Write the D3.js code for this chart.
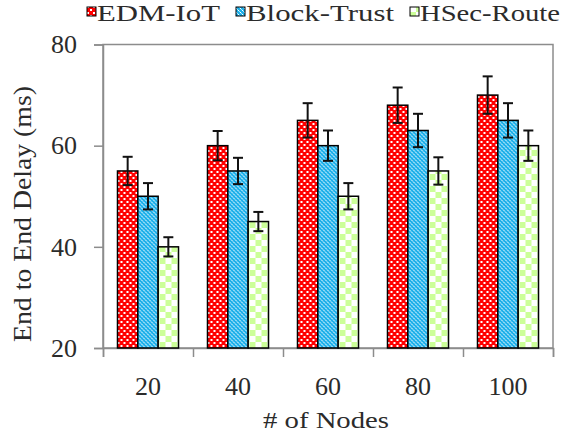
<!DOCTYPE html>
<html>
<head>
<meta charset="utf-8">
<script src="https://cdn.jsdelivr.net/npm/d3@7"></script>
<style>
  body { margin: 0; background: #fff; }
  svg { display: block; }
  svg text { font-family: "Liberation Serif", "Times New Roman", "DejaVu Serif", serif; }
</style>
</head>
<body>
<svg id="chart" width="572" height="435"></svg>
<script>
// values
const nodeCounts = ["20", "40", "60", "80", "100"];
const seriesNames = ["EDM-IoT", "Block-Trust", "HSec-Route"];
const edmIoT = [55, 60, 65, 68, 70];
const blockTrust = [50, 55, 60, 63, 65];
const hsecRoute = [40, 45, 50, 55, 60];
const edmErr = [2.8, 2.9, 3.4, 3.5, 3.7];
const blockErr = [2.6, 2.6, 3.0, 3.3, 3.4];
const hsecErr = [1.9, 1.9, 2.6, 2.7, 3.0];
const yTicks = [20, 40, 60, 80];

let values = [edmIoT, blockTrust, hsecRoute];
let errors = [edmErr, blockErr, hsecErr];

let svg = d3.select("#chart");

let plotLeft = 103, plotRight = 553, plotTop = 44.5, plotBottom = 348;
let serif = "'Liberation Serif', 'Times New Roman', 'DejaVu Serif', serif";
let textColor = "#2b2b2b";

// fill patterns
let defs = svg.append("defs");

let pRed = defs.append("pattern").attr("id", "pat0")
    .attr("patternUnits", "userSpaceOnUse").attr("width", 6).attr("height", 6);
pRed.append("rect").attr("width", 6).attr("height", 6).attr("fill", "#ff0000");
pRed.append("rect").attr("x", 0).attr("y", 0).attr("width", 2).attr("height", 2).attr("fill", "#fff");
pRed.append("rect").attr("x", 3).attr("y", 3).attr("width", 2).attr("height", 2).attr("fill", "#fff");

let pBlue = defs.append("pattern").attr("id", "pat1")
    .attr("patternUnits", "userSpaceOnUse").attr("width", 4).attr("height", 4);
pBlue.append("rect").attr("width", 4).attr("height", 4).attr("fill", "#1cb0ea");
pBlue.append("rect").attr("x", 0).attr("y", 0).attr("width", 1).attr("height", 1).attr("fill", "#fff");
pBlue.append("rect").attr("x", 2).attr("y", 2).attr("width", 1).attr("height", 1).attr("fill", "#fff");
pBlue.append("rect").attr("x", 1).attr("y", 1).attr("width", 1).attr("height", 1).attr("fill", "#a8e0f6");
pBlue.append("rect").attr("x", 3).attr("y", 3).attr("width", 1).attr("height", 1).attr("fill", "#a8e0f6");

let pGreen = defs.append("pattern").attr("id", "pat2")
    .attr("patternUnits", "userSpaceOnUse").attr("width", 12).attr("height", 12);
pGreen.append("rect").attr("width", 12).attr("height", 12).attr("fill", "#fff");
pGreen.append("rect").attr("x", 0).attr("y", 0).attr("width", 6).attr("height", 6).attr("fill", "#ccff99");
pGreen.append("rect").attr("x", 6).attr("y", 6).attr("width", 6).attr("height", 6).attr("fill", "#ccff99");

let fills = ["url(#pat0)", "url(#pat1)", "url(#pat2)"];

// scales
let y = d3.scaleLinear().domain([20, 80]).range([plotBottom, plotTop]);

let x0 = d3.scaleBand().domain(nodeCounts).range([plotLeft, plotRight])
    .paddingInner(0.322).paddingOuter(0.161);

let x1 = d3.scaleBand().domain(d3.range(seriesNames.length))
    .range([0, x0.bandwidth()]);

let xEdges = d3.scaleLinear().domain([0, nodeCounts.length]).range([plotLeft, plotRight]);

// plot frame
svg.append("rect")
    .attr("x", plotLeft).attr("y", plotTop)
    .attr("width", plotRight - plotLeft).attr("height", plotBottom - plotTop)
    .attr("fill", "none").attr("stroke", "#8c8c8c").attr("stroke-width", 1.5);

// y axis
let yAxis = svg.append("g")
    .attr("transform", "translate(" + plotLeft + ",0)")
    .call(d3.axisLeft(y).tickValues(yTicks).tickSize(9).tickPadding(17));
yAxis.attr("font-family", serif);
yAxis.select(".domain").attr("stroke", "#8c8c8c").attr("stroke-width", 1.5);
yAxis.selectAll(".tick line").attr("stroke", "#8c8c8c").attr("stroke-width", 1.5);
yAxis.selectAll("text").attr("font-size", 26).attr("fill", textColor);

// x axis tick marks on the category edges
let xTickAxis = svg.append("g")
    .attr("transform", "translate(0," + plotBottom + ")")
    .call(d3.axisBottom(xEdges).ticks(nodeCounts.length).tickSize(9).tickFormat(""));
xTickAxis.select(".domain").attr("stroke", "#8c8c8c").attr("stroke-width", 1.5);
xTickAxis.selectAll(".tick line").attr("stroke", "#8c8c8c").attr("stroke-width", 1.5);

// x axis labels
let xAxis = svg.append("g")
    .attr("transform", "translate(0," + plotBottom + ")")
    .call(d3.axisBottom(x0).tickSize(0).tickPadding(29));
xAxis.attr("font-family", serif);
xAxis.select(".domain").remove();
xAxis.selectAll("text").attr("font-size", 26).attr("fill", textColor);

// bars
let group = svg.append("g").selectAll("g")
    .data(nodeCounts)
    .enter().append("g")
    .attr("transform", function(d) { return "translate(" + x0(d) + ",0)"; });

function rowOf(d, i) {
  return values.map(function(s, k) { return {k: k, v: s[i], e: errors[k][i]}; });
}

group.selectAll("rect")
    .data(rowOf)
    .enter().append("rect")
    .attr("x", function(d) { return x1(d.k); })
    .attr("y", function(d) { return y(d.v); })
    .attr("width", x1.bandwidth())
    .attr("height", function(d) { return plotBottom - y(d.v); })
    .attr("fill", function(d) { return fills[d.k]; })
    .attr("stroke", "#000")
    .attr("stroke-width", 1.5);

// error bars
let capW = 5;
let err = group.selectAll("g.err")
    .data(rowOf)
    .enter().append("g").attr("class", "err")
    .attr("stroke", "#111").attr("stroke-width", 2);

function midX(d) { return x1(d.k) + x1.bandwidth() / 2; }

err.append("line")
    .attr("x1", midX).attr("x2", midX)
    .attr("y1", function(d) { return y(d.v + d.e); })
    .attr("y2", function(d) { return y(d.v - d.e); });
err.append("line")
    .attr("x1", function(d) { return midX(d) - capW; })
    .attr("x2", function(d) { return midX(d) + capW; })
    .attr("y1", function(d) { return y(d.v + d.e); })
    .attr("y2", function(d) { return y(d.v + d.e); });
err.append("line")
    .attr("x1", function(d) { return midX(d) - capW; })
    .attr("x2", function(d) { return midX(d) + capW; })
    .attr("y1", function(d) { return y(d.v - d.e); })
    .attr("y2", function(d) { return y(d.v - d.e); });

// axis titles
svg.append("text")
    .attr("x", 326).attr("y", 428)
    .attr("text-anchor", "middle")
    .attr("font-size", 24).attr("fill", textColor)
    .attr("textLength", 126).attr("lengthAdjust", "spacingAndGlyphs")
    .text("# of Nodes");

svg.append("text")
    .attr("transform", "translate(31,214) rotate(-90)")
    .attr("text-anchor", "middle")
    .attr("font-size", 25).attr("fill", textColor)
    .attr("textLength", 256).attr("lengthAdjust", "spacingAndGlyphs")
    .text("End to End Delay (ms)");

// legend
let legendX = [87, 236, 410];
let legendW = [123, 148, 140];
let legend = svg.append("g").selectAll("g")
    .data(seriesNames)
    .enter().append("g")
    .attr("transform", function(d, i) { return "translate(" + legendX[i] + ",0)"; });

legend.append("rect")
    .attr("x", 0).attr("y", 7).attr("width", 9).attr("height", 9)
    .attr("fill", function(d, i) { return fills[i]; })
    .attr("stroke", "#000").attr("stroke-width", 1);

legend.append("text")
    .attr("x", 10).attr("y", 21)
    .attr("font-size", 23).attr("fill", textColor)
    .attr("textLength", function(d, i) { return legendW[i]; })
    .attr("lengthAdjust", "spacingAndGlyphs")
    .text(function(d) { return d; });
</script>
</body>
</html>
